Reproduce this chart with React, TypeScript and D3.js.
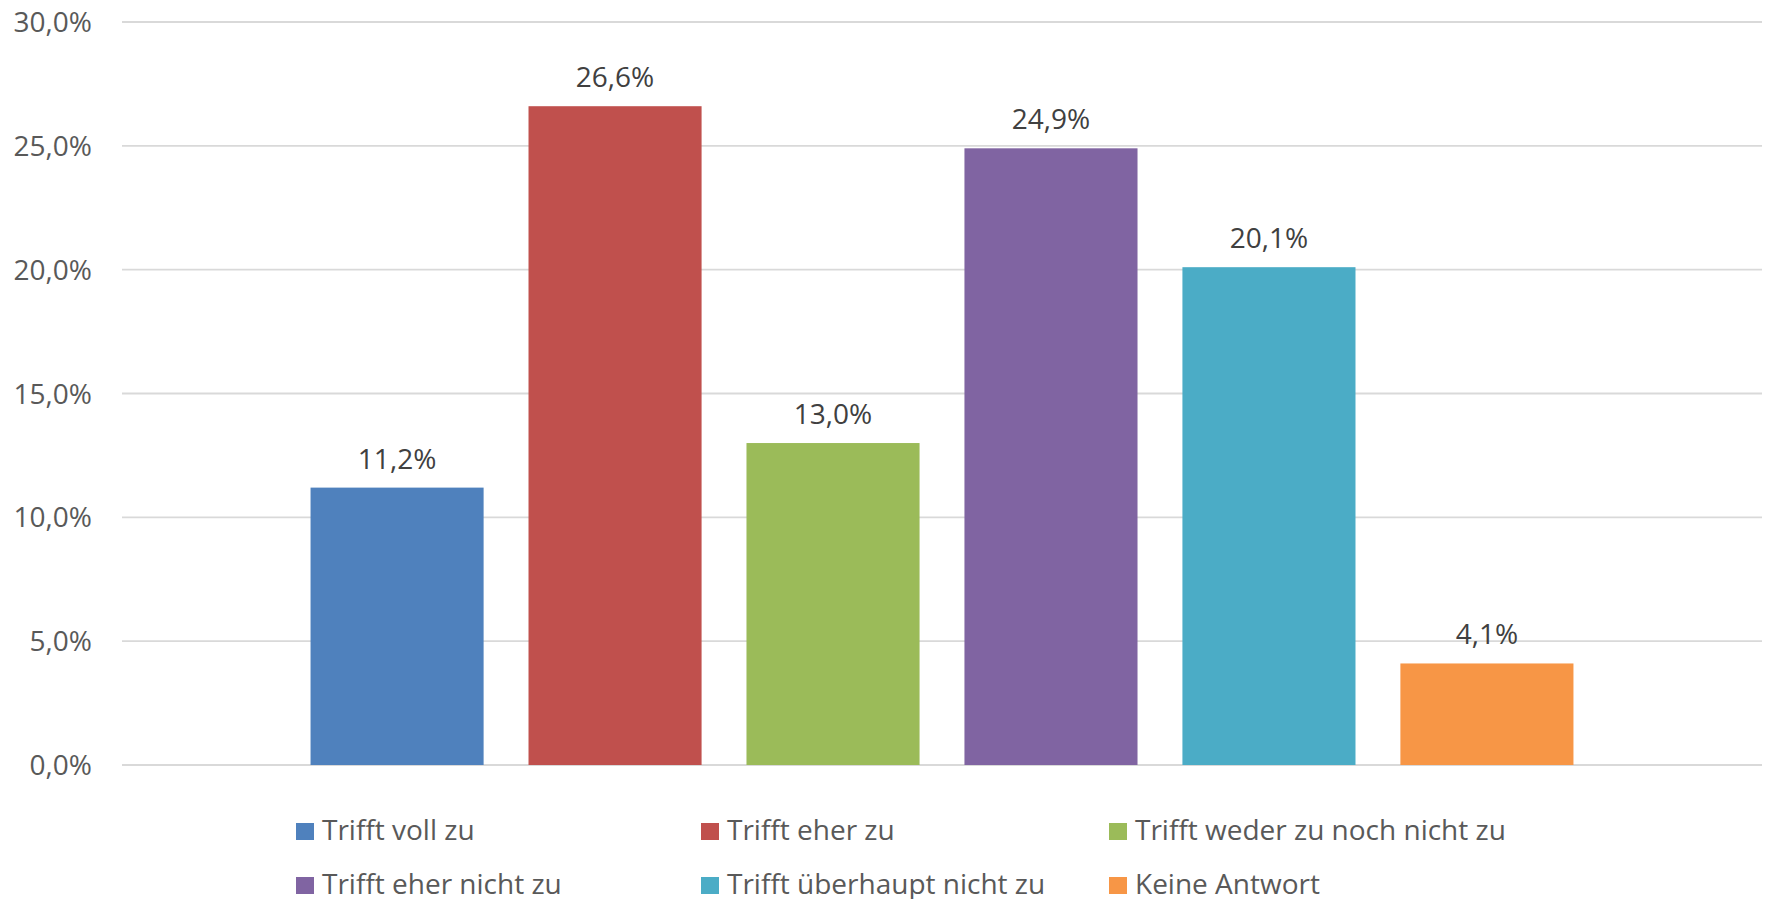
import React from "react";
import * as d3 from "d3";

const categories = [
  "Trifft voll zu",
  "Trifft eher zu",
  "Trifft weder zu noch nicht zu",
  "Trifft eher nicht zu",
  "Trifft überhaupt nicht zu",
  "Keine Antwort",
];
const values = [11.2, 26.6, 13.0, 24.9, 20.1, 4.1];
const colors = ["#4F81BD", "#C0504D", "#9BBB59", "#8064A2", "#4BACC6", "#F79646"];
const yTicks = [0, 5, 10, 15, 20, 25, 30];

const W = 1765;
const H = 899;
const plotLeft = 122;
const plotRight = 1762;
const plotTop = 22;
const plotBottom = 765;
const FONT = "'Open Sans', 'Noto Sans', sans-serif";
const FS = 28;

const fmt = (v: number) => v.toFixed(1).replace(".", ",") + "%";

export default function App() {
  const x = d3
    .scaleBand<string>()
    .domain(categories)
    .range([plotLeft, plotRight])
    .paddingInner(0.206)
    .paddingOuter(0.865);
  const y = d3.scaleLinear().domain([0, 30]).range([plotBottom, plotTop]);

  const legendCols = [296, 701, 1109];
  const legendBaselines = [840, 894];

  return (
    <svg
      width={W}
      height={H}
      style={{ position: "absolute", left: 0, top: 0, background: "#fff" }}
      fontFamily={FONT}
    >
      {yTicks.map((t) => (
        <g key={t}>
          <line
            x1={plotLeft}
            x2={plotRight}
            y1={y(t)}
            y2={y(t)}
            stroke="#D9D9D9"
            strokeWidth={1.8}
          />
          <text
            x={92}
            y={y(t) + 10}
            textAnchor="end"
            fontSize={FS}
            fill="#595959"
          >
            {fmt(t)}
          </text>
        </g>
      ))}
      {categories.map((c, i) => (
        <g key={c}>
          <rect
            x={x(c)}
            y={y(values[i])}
            width={x.bandwidth()}
            height={y(0) - y(values[i])}
            fill={colors[i]}
          />
          <text
            x={(x(c) as number) + x.bandwidth() / 2}
            y={y(values[i]) - 19}
            textAnchor="middle"
            fontSize={FS}
            fill="#404040"
          >
            {fmt(values[i])}
          </text>
        </g>
      ))}
      {categories.map((c, i) => {
        const col = i % 3;
        const row = Math.floor(i / 3);
        const lx = legendCols[col];
        const by = legendBaselines[row];
        return (
          <g key={"lg" + c}>
            <rect x={lx} y={by - 17} width={18} height={17} fill={colors[i]} />
            <text x={lx + 26} y={by} fontSize={FS} fill="#595959">
              {c}
            </text>
          </g>
        );
      })}
    </svg>
  );
}
